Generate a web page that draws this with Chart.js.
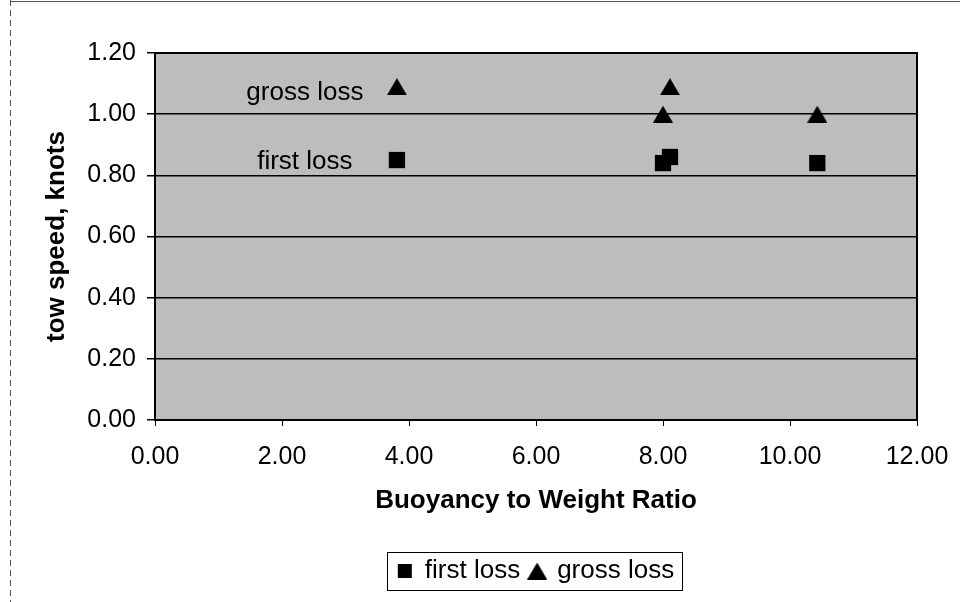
<!DOCTYPE html>
<html><head><meta charset="utf-8">
<script src="https://cdn.jsdelivr.net/npm/chart.js@4.4.0/dist/chart.umd.min.js"></script>
<style>html,body{margin:0;padding:0;background:#fff}#wrap{width:960px;height:602px;position:relative}</style>
</head><body><div id="wrap"><canvas id="c" width="960" height="602"></canvas></div>
<script>
// ---- data ----
const seriesNames = ['first loss', 'gross loss'];
const firstLossX = [3.81, 8.0, 8.11, 10.43];
const firstLossY = [0.85, 0.84, 0.86, 0.84];
const grossLossX = [3.81, 8.11, 8.0, 10.43];
const grossLossY = [1.09, 1.09, 1.00, 1.00];
const xTitle = 'Buoyancy to Weight Ratio';
const yTitle = 'tow speed, knots';
const xTickValues = [0, 2, 4, 6, 8, 10, 12];
const yTickValues = [0, 0.2, 0.4, 0.6, 0.8, 1.0, 1.2];
const annotationTexts = ['gross loss', 'first loss'];

const FONT = "'Liberation Sans', Arial, sans-serif";

function triangleImg(w, h) {
  const c = document.createElement('canvas');
  c.width = w; c.height = h;
  const g = c.getContext('2d');
  g.fillStyle = '#000';
  g.beginPath(); g.moveTo(w / 2, 0); g.lineTo(w, h); g.lineTo(0, h); g.closePath(); g.fill();
  return c;
}
const tri = triangleImg(20, 17);

const bgPlugin = {
  id: 'bg',
  beforeDraw(chart) {
    const {ctx, chartArea: a} = chart;
    ctx.save();
    ctx.fillStyle = '#fff';
    ctx.fillRect(0, 0, chart.width, chart.height);
    ctx.fillStyle = '#bdbdbd';
    ctx.fillRect(a.left, a.top, a.right - a.left, a.bottom - a.top);
    // outer frame remnants
    ctx.strokeStyle = '#555';
    ctx.lineWidth = 1;
    ctx.beginPath(); ctx.moveTo(10, 1.5); ctx.lineTo(960, 1.5); ctx.stroke();
    ctx.setLineDash([6, 4]);
    ctx.beginPath(); ctx.moveTo(10.5, 0); ctx.lineTo(10.5, 602); ctx.stroke();
    ctx.restore();
  },
  afterDatasetsDraw(chart) {
    const {ctx, chartArea: a, scales} = chart;
    ctx.save();
    ctx.strokeStyle = '#000';
    ctx.lineWidth = 2;
    ctx.strokeRect(a.left, a.top, a.right - a.left, a.bottom - a.top);
    // in-plot labels
    ctx.fillStyle = '#000';
    ctx.font = '26px ' + FONT;
    ctx.textAlign = 'center';
    ctx.textBaseline = 'middle';
    ctx.fillText(annotationTexts[0], scales.x.getPixelForValue(2.36), scales.y.getPixelForValue(1.07));
    ctx.fillText(annotationTexts[1], scales.x.getPixelForValue(2.36), scales.y.getPixelForValue(0.845));
    ctx.restore();
  },
  afterDraw(chart) {
    const lg = chart.legend;
    if (!lg || !lg.legendHitBoxes || !lg.legendHitBoxes.length) return;
    const hb = lg.legendHitBoxes;
    const l = hb[0].left - 11;
    const last = hb[hb.length - 1];
    const r = last.left + last.width + 8;
    const t = hb[0].top - 6;
    const b = hb[0].top + hb[0].height + 6;
    const ctx = chart.ctx;
    ctx.save();
    ctx.strokeStyle = '#000';
    ctx.lineWidth = 1;
    ctx.strokeRect(Math.round(l) + 0.5, Math.round(t) + 0.5, Math.round(r - l), Math.round(b - t));
    ctx.restore();
  }
};

new Chart(document.getElementById('c'), {
  type: 'scatter',
  data: {
    datasets: [
      {
        label: seriesNames[0],
        data: firstLossX.map((x, i) => ({x, y: firstLossY[i]})),
        pointStyle: 'rect',
        pointRadius: 11.5,
        backgroundColor: '#000',
        borderColor: '#000',
        borderWidth: 0
      },
      {
        label: seriesNames[1],
        data: grossLossX.map((x, i) => ({x, y: grossLossY[i]})),
        pointStyle: tri,
        pointRadius: 10,
        backgroundColor: '#000',
        borderColor: '#000',
        borderWidth: 0
      }
    ]
  },
  options: {
    responsive: false,
    animation: false,
    devicePixelRatio: 1,
    layout: {padding: {left: 0, right: 43, top: 53, bottom: 8}},
    plugins: {
      tooltip: {enabled: false},
      legend: {
        position: 'bottom',
        fullSize: false,
        labels: {
          usePointStyle: true,
          boxWidth: 14,
          boxHeight: 14,
          padding: 10,
          color: '#000',
          font: {family: FONT, size: 26}
        }
      }
    },
    scales: {
      x: {
        type: 'linear',
        min: xTickValues[0],
        max: xTickValues[xTickValues.length - 1],
        afterBuildTicks: s => { s.ticks = xTickValues.map(v => ({value: v})); },
        afterFit: s => { s.height = 128; s.paddingRight = 0; s.paddingLeft = 0; },
        ticks: {color: '#000', font: {family: FONT, size: 25}, padding: 16, maxRotation: 0,
          callback: v => Number(v).toFixed(2)},
        grid: {drawOnChartArea: false, drawTicks: true, tickLength: 6, color: '#000', lineWidth: 1},
        border: {display: false},
        title: {display: true, text: xTitle, color: '#000',
          font: {family: FONT, size: 26, weight: 'bold'}, padding: {top: 0, bottom: 32}}
      },
      y: {
        type: 'linear',
        min: yTickValues[0],
        max: yTickValues[yTickValues.length - 1],
        afterBuildTicks: s => { s.ticks = yTickValues.map(v => ({value: v})); },
        afterFit: s => { s.width = 155; },
        ticks: {color: '#000', font: {family: FONT, size: 25}, padding: 11,
          callback: v => Number(v).toFixed(2)},
        grid: {drawTicks: true, tickLength: 8, color: '#000', lineWidth: 1.5},
        border: {display: false},
        title: {display: true, text: yTitle, color: '#000',
          font: {family: FONT, size: 26, weight: 'bold'}, padding: {top: 41, bottom: 0}}
      }
    }
  },
  plugins: [bgPlugin]
});
</script>
</body></html>
